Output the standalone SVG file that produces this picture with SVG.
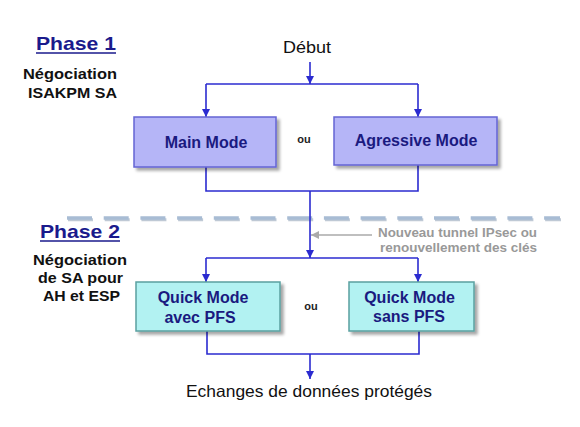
<svg xmlns="http://www.w3.org/2000/svg" width="580" height="427" viewBox="0 0 580 427">
<defs>
<style>
.t{font-family:"Liberation Sans",Arial,sans-serif}
.ph{font-size:19px;font-weight:bold;fill:#1a1a8c}
.lab{font-size:15px;font-weight:bold;fill:#111}
.bx{font-size:16px;font-weight:bold;fill:#1a1a80;text-anchor:middle}
.ou{font-size:11px;font-weight:bold;fill:#222;text-anchor:middle}
.gr{font-size:13px;font-weight:bold;fill:#999}
.c{fill:none;stroke:#2b2bd0;stroke-width:1.6}
.p1{fill:#b5b5f7;stroke:#6464d4;stroke-width:1.5}
.p2{fill:#b2f2f2;stroke:#5aa0a0;stroke-width:1.5}
.dash{fill:none;stroke-dasharray:25 11.7}
</style>
<filter id="sh" x="-10%" y="-10%" width="130%" height="140%">
<feDropShadow dx="3" dy="3" stdDeviation="1.5" flood-color="#000" flood-opacity="0.35"/>
</filter>
<marker id="ab" viewBox="0 0 10 10" refX="10" refY="5" markerWidth="8" markerHeight="8" markerUnits="userSpaceOnUse" orient="auto">
<path d="M0,0 L10,5 L0,10 z" fill="#2b2bd0"/>
</marker>
<marker id="ag" viewBox="0 0 10 10" refX="10" refY="5" markerWidth="8" markerHeight="8" markerUnits="userSpaceOnUse" orient="auto">
<path d="M0,0 L10,5 L0,10 z" fill="#aaaaaa"/>
</marker>
</defs>
<rect width="580" height="427" fill="#ffffff"/>

<g id="phase1-label" class="t">
<text class="ph" x="36" y="50" textLength="80" lengthAdjust="spacingAndGlyphs">Phase 1</text>
<line x1="36" y1="53" x2="116" y2="53" stroke="#1a1a8c" stroke-width="1.6"/>
<text class="lab" x="23" y="79" textLength="94" lengthAdjust="spacingAndGlyphs">Négociation</text>
<text class="lab" x="28" y="98" textLength="89" lengthAdjust="spacingAndGlyphs">ISAKPM SA</text>
</g>

<g id="phase2-label" class="t">
<text class="ph" x="40" y="238" textLength="80" lengthAdjust="spacingAndGlyphs">Phase 2</text>
<line x1="40" y1="241" x2="120" y2="241" stroke="#1a1a8c" stroke-width="1.6"/>
<text class="lab" x="33" y="265" textLength="94" lengthAdjust="spacingAndGlyphs">Négociation</text>
<text class="lab" x="38" y="283" textLength="85" lengthAdjust="spacingAndGlyphs">de SA pour</text>
<text class="lab" x="43" y="301" textLength="77" lengthAdjust="spacingAndGlyphs">AH et ESP</text>
</g>

<g id="separator">
<line class="dash" x1="68" y1="219.8" x2="561" y2="219.8" stroke="#8a9db3" stroke-opacity="0.55" stroke-width="3"/>
<line class="dash" x1="67" y1="218" x2="560" y2="218" stroke="#a8bcd4" stroke-width="3.6"/>
</g>

<g id="connectors">
<path class="c" d="M310 62 V84" marker-end="url(#ab)"/>
<path class="c" d="M206 84 H418"/>
<path class="c" d="M206 84 V117" marker-end="url(#ab)"/>
<path class="c" d="M418 84 V117" marker-end="url(#ab)"/>
<path class="c" d="M206 167 V191 H418 V165"/>
<path class="c" d="M310 191 V258" marker-end="url(#ab)"/>
<path class="c" d="M206 258 H418"/>
<path class="c" d="M206 258 V282" marker-end="url(#ab)"/>
<path class="c" d="M418 258 V282" marker-end="url(#ab)"/>
<path class="c" d="M207 331 V354 H419 V331"/>
<path class="c" d="M310 354 V379" marker-end="url(#ab)"/>
<path d="M372 235 H311" fill="none" stroke="#aaaaaa" stroke-width="1.6" marker-end="url(#ag)"/>
</g>

<g id="debut" class="t">
<text x="283" y="52.5" font-size="17" fill="#111" textLength="48" lengthAdjust="spacingAndGlyphs">Début</text>
</g>

<g id="main-mode" class="t">
<rect class="p1" x="134" y="117" width="142" height="50" filter="url(#sh)"/>
<text class="bx" x="206" y="148">Main Mode</text>
</g>

<g id="ou1" class="t"><text class="ou" x="304" y="143">ou</text></g>

<g id="agressive-mode" class="t">
<rect class="p1" x="334" y="117" width="163" height="48" filter="url(#sh)"/>
<text class="bx" x="416" y="146">Agressive Mode</text>
</g>

<g id="annotation" class="t">
<text class="gr" x="378" y="237" textLength="159" lengthAdjust="spacingAndGlyphs">Nouveau tunnel IPsec ou</text>
<text class="gr" x="380" y="252" textLength="157" lengthAdjust="spacingAndGlyphs">renouvellement des clés</text>
</g>

<g id="quick-pfs" class="t">
<rect class="p2" x="136" y="282" width="144" height="49" filter="url(#sh)"/>
<text class="bx" x="203" y="303">Quick Mode</text>
<text class="bx" x="200" y="323">avec PFS</text>
</g>

<g id="ou2" class="t"><text class="ou" x="311" y="310">ou</text></g>

<g id="quick-nopfs" class="t">
<rect class="p2" x="349" y="282" width="125" height="49" filter="url(#sh)"/>
<text class="bx" x="409.5" y="303">Quick Mode</text>
<text class="bx" x="409" y="322">sans PFS</text>
</g>

<g id="echanges" class="t">
<text x="186" y="397" font-size="16.5" fill="#111" textLength="246" lengthAdjust="spacingAndGlyphs">Echanges de données protégés</text>
</g>
</svg>
